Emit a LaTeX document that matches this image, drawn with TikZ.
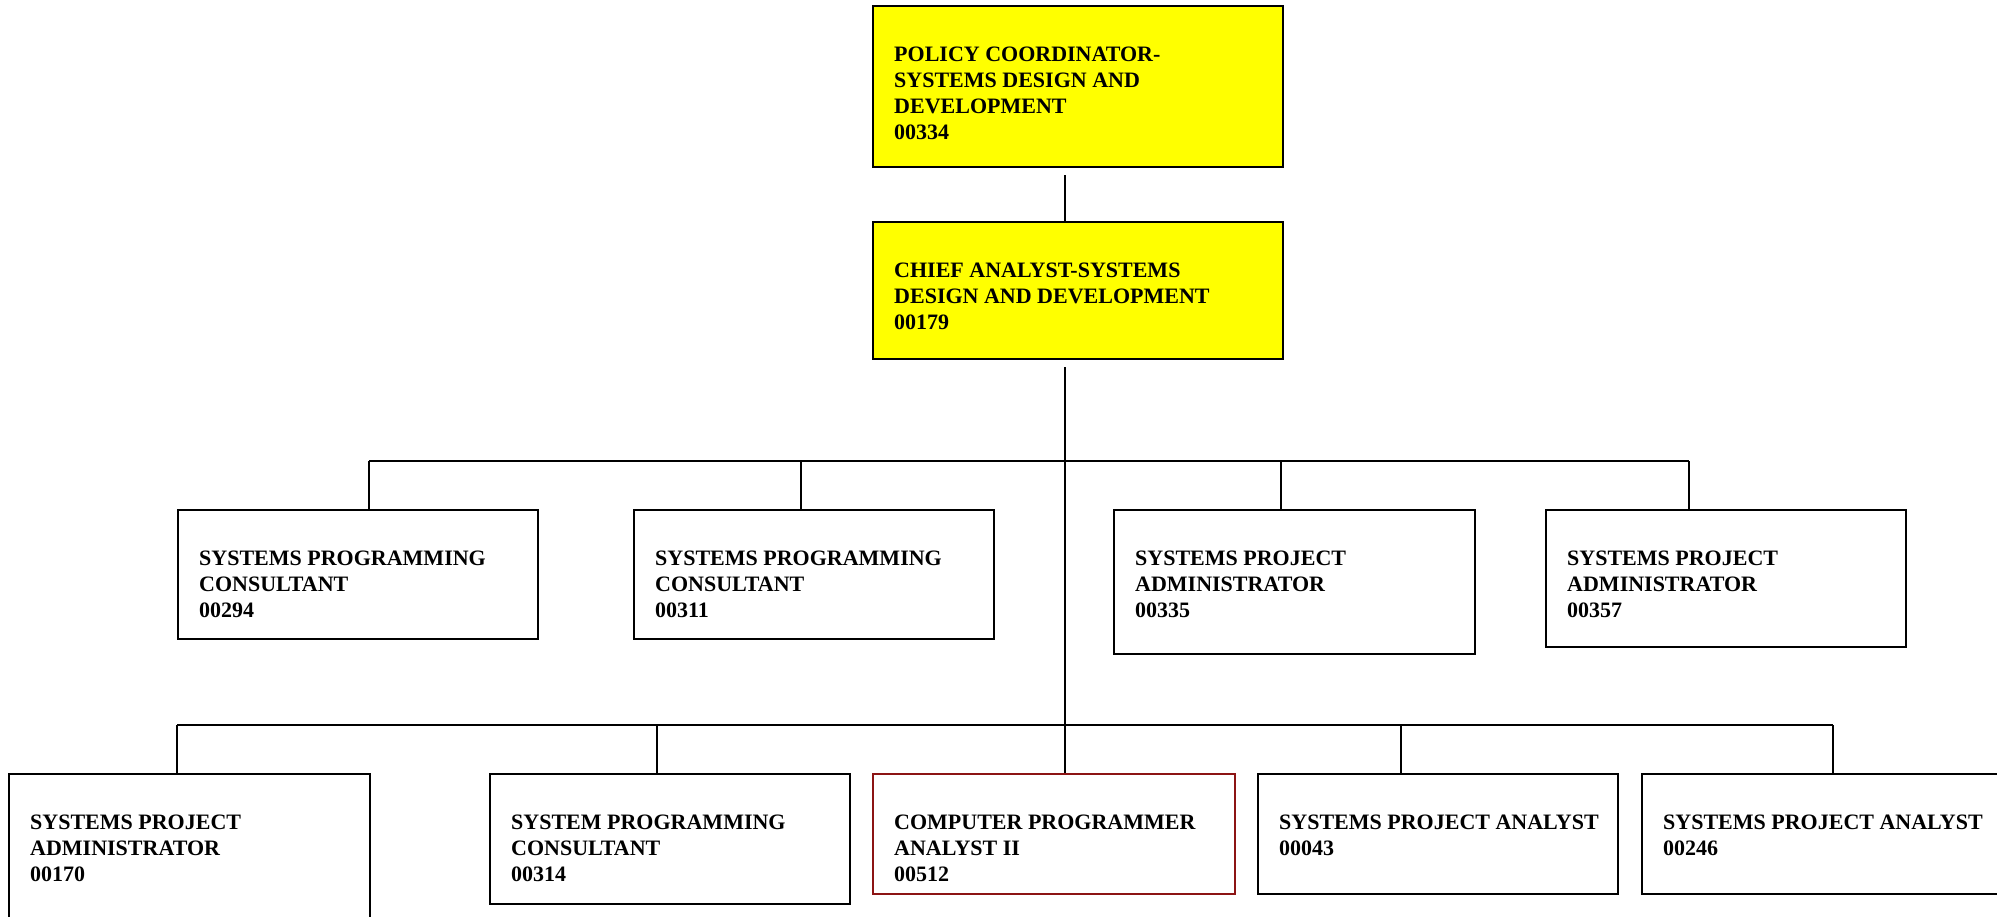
\documentclass[tikz,border=0pt]{standalone}
\usepackage{fontspec}
\setmainfont{Liberation Serif}
\definecolor{postyellow}{RGB}{255,255,0}
\definecolor{postred}{RGB}{140,20,20}
\tikzset{
  post/.style={draw=black, line width=2pt, fill=white, anchor=north west, inner sep=0pt},
  chief/.style={post, fill=postyellow},
  vacant/.style={post, draw=postred},
  title/.style={anchor=north west, inner sep=0pt, align=left,
    font=\fontsize{22}{26}\selectfont\bfseries},
  conn/.style={draw=black, line width=1.5pt},
}
\newcommand{\postbox}[7]{% style, name, x, y, w, h, text
  \node[#1, minimum width=#5pt, minimum height=#6pt] (#2) at (#3,#4) {};
  \node[title] (#2-t) at ([xshift=22pt,yshift=-42pt]#2.north west) {#7};
}
\begin{document}
\begin{tikzpicture}[x=1pt,y=-1pt]
\useasboundingbox (0,0) rectangle (1997,916);

% top of the hierarchy
\postbox{chief}{pc}{872}{5}{410}{161}{POLICY COORDINATOR-\\SYSTEMS DESIGN AND\\DEVELOPMENT\\00334}
\postbox{chief}{ca}{872}{221}{410}{137}{CHIEF ANALYST-SYSTEMS\\DESIGN AND DEVELOPMENT\\00179}

% second row
\postbox{post}{p294}{177}{509}{360}{129}{SYSTEMS PROGRAMMING\\CONSULTANT\\00294}
\postbox{post}{p311}{633}{509}{360}{129}{SYSTEMS PROGRAMMING\\CONSULTANT\\00311}
\postbox{post}{p335}{1113}{509}{361}{144}{SYSTEMS PROJECT\\ADMINISTRATOR\\00335}
\postbox{post}{p357}{1545}{509}{360}{137}{SYSTEMS PROJECT\\ADMINISTRATOR\\00357}

% third row
\postbox{post}{p170}{8}{773}{361}{170}{SYSTEMS PROJECT\\ADMINISTRATOR\\00170}
\postbox{post}{p314}{489}{773}{360}{130}{SYSTEM PROGRAMMING\\CONSULTANT\\00314}
\postbox{vacant}{p512}{872}{773}{362}{120}{COMPUTER PROGRAMMER\\ANALYST II\\00512}
\postbox{post}{p043}{1257}{773}{360}{120}{SYSTEMS PROJECT ANALYST\\00043}
\postbox{post}{p246}{1641}{773}{380}{120}{SYSTEMS PROJECT ANALYST\\00246}

% bus lines
\coordinate (bus2) at (1065,461);
\coordinate (bus3) at (1065,725);
\coordinate (d294) at (369,461);
\coordinate (d311) at (801,461);
\coordinate (d335) at (1281,461);
\coordinate (d357) at (1689,461);
\coordinate (d170) at (177,725);
\coordinate (d314) at (657,725);
\coordinate (d043) at (1401,725);
\coordinate (d246) at (1833,725);

\draw[conn] ([yshift=-7pt]pc.south -| bus2) -- (ca.north -| bus2);
\draw[conn] ([yshift=-7pt]ca.south -| bus2) -- (p512.north -| bus2);

\draw[conn] (d294) -- (d357);
\foreach \d/\b in {d294/p294, d311/p311, d335/p335, d357/p357}
  \draw[conn] (\d) -- (\d |- \b.north);

\draw[conn] (d170) -- (d246);
\foreach \d/\b in {d170/p170, d314/p314, d043/p043, d246/p246}
  \draw[conn] (\d) -- (\d |- \b.north);
\end{tikzpicture}
\end{document}
